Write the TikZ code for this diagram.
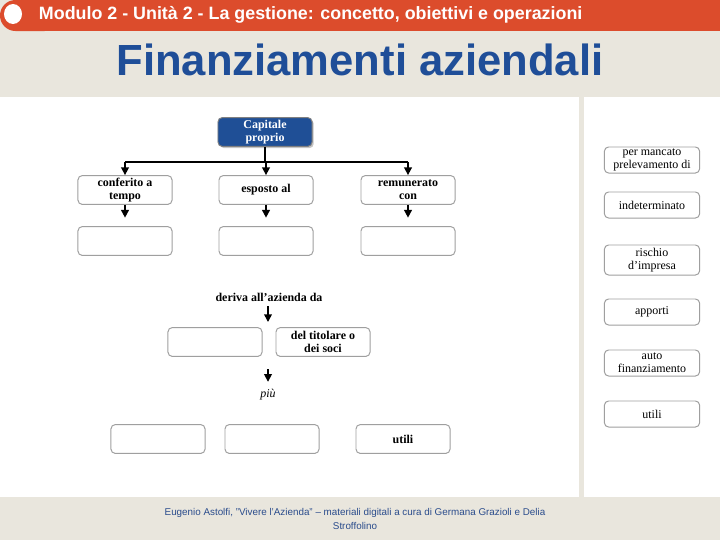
\documentclass[tikz,border=0pt]{standalone}
\usepackage{fontspec}
\setmainfont{Liberation Serif}
\setsansfont{Liberation Sans}
\usetikzlibrary{arrows.meta,positioning,shadows}

\definecolor{headred}{HTML}{DC4C2C}
\definecolor{beige}{HTML}{E9E6DD}
\definecolor{titleblue}{HTML}{1F4E98}
\definecolor{capblue}{HTML}{1F4F96}
\definecolor{footblue}{HTML}{2A4C8C}

\tikzset{
  box/.style={draw=gray!75, fill=white, rounded corners=3pt, line width=0.7pt,
    minimum width=2.35cm, minimum height=0.72cm, align=center, inner sep=1pt,
    font=\fontsize{8.5}{9.5}\selectfont\bfseries},
  sidebox/.style={box, minimum width=2.38cm, minimum height=0.65cm,
    font=\fontsize{8.5}{9.5}\selectfont},
  arr/.style={line width=1.1pt, -{Triangle[width=5.5pt,length=5.5pt]}},
  link/.style={line width=1.1pt}
}

\begin{document}
\begin{tikzpicture}[x=0.025cm, y=-0.025cm]
  \useasboundingbox (0,0) rectangle (720,540);
  % background and header
  \fill[beige] (0,0) rectangle (720,540);
  \fill[white] (0,97) rectangle (720,497);
  \fill[beige] (579,97) rectangle (584,497);
  \fill[headred, rounded corners=11pt] (0,0) rectangle (60,31);
  \fill[headred] (30,0) rectangle (720,31);
  \fill[white] (13,14) ellipse (9 and 10);
  \node[anchor=west, text=white, font=\sffamily\bfseries\fontsize{12.7}{13}\selectfont]
    (head) at (34,15) {Modulo 2 - Unità 2 - La gestione: concetto, obiettivi e operazioni};
  \node[text=titleblue, font=\sffamily\bfseries\fontsize{31}{36}\selectfont]
    (title) at (360,60) {Finanziamenti aziendali};

  % main scheme
  \node[box, fill=capblue, draw=gray, text=white,
    drop shadow={shadow xshift=1.2pt, shadow yshift=-1.2pt, opacity=0.45}]
    (cap) at (265,132) {Capitale\\proprio};
  \node[box] (conf) at (125,190) {conferito a\\tempo};
  \node[box] (esp)  at (266,190) {esposto al};
  \node[box] (rem)  at (408,190) {remunerato\\con};
  \node[box] (e1) at (125,241) {};
  \node[box] (e2) at (266,241) {};
  \node[box] (e3) at (408,241) {};

  \path (cap.south) ++(0,15) coordinate (fork);
  \draw[link] (cap.south) -- (fork);
  \draw[link] (conf.north |- fork) -- (rem.north |- fork);
  \foreach \n in {conf,esp,rem}
    \draw[arr] (\n.north |- fork) -- (\n.north);
  \draw[arr, shorten >=6pt] (conf) -- (e1);
  \draw[arr, shorten >=6pt] (esp) -- (e2);
  \draw[arr, shorten >=6pt] (rem) -- (e3);

  \node[font=\fontsize{8.5}{9.5}\selectfont\bfseries] (deriva) at (269,297) {deriva all’azienda da};
  \coordinate (d1) at (268,322);
  \draw[arr] (deriva.south -| d1) -- (d1);
  \node[box] (e4)  at (215,342) {};
  \node[box] (tit) at (323,342) {del titolare o\\dei soci};

  \coordinate (p0) at (268,369);
  \node[font=\fontsize{8.5}{9.5}\selectfont\itshape] (piu) at (268,395) {più};
  \draw[arr, shorten >=2pt] (p0) -- (piu);

  \node[box] (e5)  at (158,439) {};
  \node[box] (e6)  at (272,439) {};
  \node[box] (utl) at (403,439) {utili};

  % right column
  \node[sidebox] (s1) at (652,160) {per mancato\\prelevamento di};
  \node[sidebox] (s2) at (652,205) {indeterminato};
  \node[sidebox, minimum height=0.75cm] (s3) at (652,260) {rischio\\d’impresa};
  \node[sidebox] (s4) at (652,312) {apporti};
  \node[sidebox] (s5) at (652,363) {auto\\finanziamento};
  \node[sidebox] (s6) at (652,414) {utili};

  % footer
  \node[text=footblue, align=center, font=\sffamily\fontsize{7}{9.3}\selectfont]
    (foot) at (355,519) {Eugenio Astolfi, "Vivere l'Azienda" – materiali digitali a cura di Germana Grazioli e Delia\\Stroffolino};
\end{tikzpicture}
\end{document}
